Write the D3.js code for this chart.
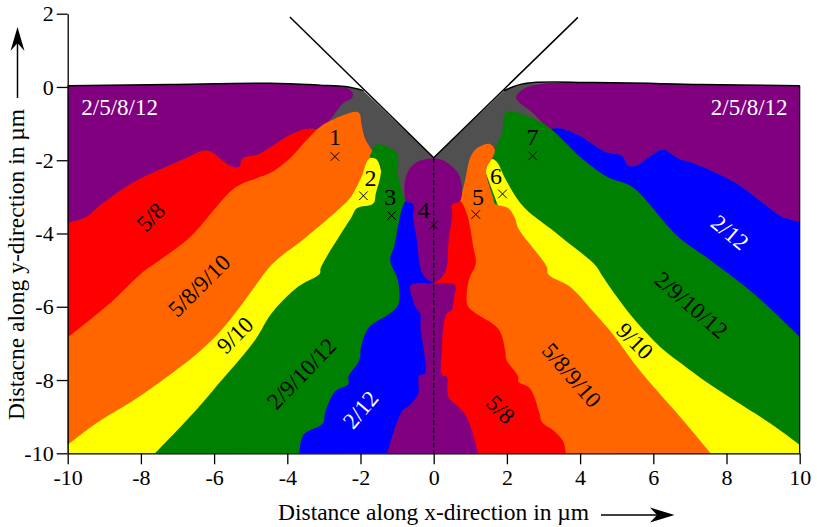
<!DOCTYPE html>
<html>
<head>
<meta charset="utf-8">
<script src="https://cdn.jsdelivr.net/npm/d3@7"></script>
<style>
  html, body { margin: 0; padding: 0; background: #fff; }
  svg { display: block; }
  text { font-family: "Liberation Serif", serif; fill: #000; }
  .tick text { font-family: "Liberation Serif", serif; font-size: 22px; }
</style>
</head>
<body>
<div id="chart"></div>
<script>
// all boundaries are [x, y] in um
const xTicks = [-10, -8, -6, -4, -2, 0, 2, 4, 6, 8, 10];
const yTicks = [2, 0, -2, -4, -6, -8, -10];

const surfaceLeft = [[-10,0.03],[-7.2,0.07],[-4.47,0.1],[-3.11,0.05],[-2.42,0.01],[-1.92,-0.1]];
const surfaceRight = [[1.92,-0.1],[2.54,0.1],[4.36,0.12],[7.28,0.07],[10,0.03]];
const trench = [[-3.93,1.91],[0,-1.93],[3.94,1.9]];

const purpleRedLeft = [[-10,-3.71],[-9.48,-3.54],[-9.12,-3.24],[-8.21,-2.61],[-7.3,-2.18],[-6.66,-1.9],[-6.34,-1.75],[-6.13,-1.75],[-5.52,-2.18],[-5.31,-2.18],[-5.25,-1.99],[-5.16,-1.92],[-4.84,-1.86],[-4.47,-1.65],[-3.93,-1.31],[-3.47,-1.15],[-3.24,-1.15],[-3.15,-1.17]];
const purpleGrayLeft = [[-2.42,0],[-2.21,-0.17],[-2.24,-0.31],[-2.47,-0.44],[-2.88,-0.95]];
const redCloseLeft = [[-10,-10]];

const orangeLeft = [[-10,-6.84],[-8.84,-5.9],[-7.93,-5.04],[-7.48,-4.72],[-6.66,-4.1],[-5.43,-2.75],[-4.84,-2.49],[-4.47,-2.35],[-3.93,-1.95],[-3.47,-1.45],[-3.15,-1.13],[-2.88,-0.95],[-2.06,-0.69],[-1.97,-1.04],[-1.88,-1.4],[-1.68,-1.74]];
const orangeCloseLeft = [[-1.52,-3.08],[-5,-10],[-10,-10]];

const yellowLeft = [[-10,-9.77],[-9.16,-9.14],[-8.07,-8.47],[-6.89,-7.62],[-6.3,-7.13],[-5.84,-6.68],[-5.29,-6],[-5.02,-5.63],[-4.56,-5],[-4.29,-4.72],[-3.47,-4.09],[-2.29,-3.04],[-2.15,-2.81],[-1.97,-2.45],[-1.76,-1.95],[-1.56,-1.97],[-1.44,-2.27]];
const yellowCloseLeft = [[-1.47,-3.9],[-5.57,-10],[-10,-10]];

const greenLeft = [[-7.61,-10],[-6.61,-8.95],[-6.02,-8.27],[-4.88,-6.91],[-4.43,-6.18],[-3.7,-5.45],[-3.11,-5.09],[-3.09,-4.95],[-2.24,-3.54],[-2.1,-3.31],[-1.65,-3.18],[-1.58,-2.9],[-1.44,-2.27],[-1.56,-1.97],[-1.74,-1.92],[-1.68,-1.74],[-1.58,-1.58],[-1.42,-1.58],[-1.01,-1.81],[-0.97,-2.45],[-0.78,-3.08],[-0.76,-3.11]];
const greenCloseLeft = [[-0.78,-5.81],[-2.56,-10]];

const blueLeft = [[-3.67,-10],[-3.56,-9.5],[-3.02,-9.18],[-2.97,-8.91],[-2.7,-8.32],[-2.33,-8.11],[-2.33,-7.91],[-2.03,-7.45],[-1.99,-7.13],[-1.79,-6.59],[-1.19,-6.18],[-0.97,-5.95],[-0.98,-5.27],[-1.19,-4.72],[-1.08,-4.36],[-0.76,-3.11],[-0.56,-3.18]];
const blueCloseLeft = [[-0.24,-4.18],[0,-5.4],[0,-10]];

const purpleBlueRight = [[3.18,-1.15],[3.45,-1.13],[4,-1.34],[4.68,-1.77],[5.14,-1.88],[5.32,-2.15],[5.53,-2.15],[6.14,-1.74],[6.32,-1.72],[6.68,-1.95],[7.09,-2.08],[8.19,-2.59],[9.01,-3.18],[9.51,-3.54],[10,-3.68]];
const purpleGrayRight = [[2.9,-0.9],[2.72,-0.72],[2.25,-0.31],[2.31,-0.17],[2.54,-0.01],[3,0.09]];
const blueCloseRight = [[10,-10]];

const greenRight = [[10,-6.82],[8.73,-5.63],[7.55,-4.72],[6.68,-4.09],[5.41,-2.72],[4.77,-2.47],[4.09,-1.99],[3.18,-1.13],[2.81,-0.9],[1.99,-0.69],[1.86,-1.26],[1.65,-1.72]];
const greenCloseRight = [[1.48,-3.49],[5.01,-10],[10,-10]];

const yellowRight = [[10,-9.77],[9.19,-9.18],[8.05,-8.45],[7.37,-8],[6.82,-7.59],[6.18,-7.09],[5.45,-6.31],[4.86,-5.53],[4.59,-5.13],[4.41,-4.86],[3.63,-4.22],[3.18,-3.86],[2.54,-3.36],[2.27,-3.04],[1.95,-2.49],[1.72,-2.04],[1.58,-1.97],[1.45,-2.18],[1.43,-2.36]];
const yellowCloseRight = [[1.95,-3.77],[5.91,-10],[10,-10]];

const orangeRight = [[7.57,-10],[6.73,-9],[6.05,-8.23],[5.55,-7.64],[4.91,-6.77],[4.32,-6.09],[3.72,-5.45],[3.13,-5.11],[3.09,-4.91],[2.31,-3.86],[2.22,-3.58],[2.04,-3.31],[1.67,-3.19],[1.63,-3.04],[1.43,-2.36],[1.45,-2.18],[1.58,-1.97],[1.67,-1.72],[1.54,-1.56],[1.36,-1.58],[1.13,-1.72],[0.99,-1.95],[0.86,-2.54],[0.72,-3.11]];
const orangeCloseRight = [[0.31,-4.18],[0,-5.34],[1.81,-10]];

const redRight = [[3.61,-10],[3.54,-9.68],[3.31,-9.41],[2.95,-9.14],[2.9,-8.95],[2.63,-8.23],[2.31,-8.05],[2.31,-7.91],[1.99,-7.45],[1.95,-7.18],[1.77,-6.61],[1.08,-6.13],[0.92,-5.95],[0.96,-5.27],[1.15,-4.81],[1.08,-4.36],[0.99,-3.81],[0.9,-3.45],[0.72,-3.11],[0.49,-3.22]];
const redCloseRight = [[0,-4.5],[0,-10]];

const centerTop = [[0,-1.95],[0.22,-1.99],[0.45,-2.13],[0.67,-2.36],[0.77,-2.72],[0.72,-3.11],[0.49,-3.22],[0.51,-3.45],[0.4,-4.27],[0.36,-4.91],[0.22,-5.2],[0,-5.34],[-0.27,-5.16],[-0.37,-4.91],[-0.46,-4.18],[-0.56,-3.54],[-0.54,-3.27],[-0.56,-3.18],[-0.76,-3.11],[-0.8,-2.81],[-0.78,-2.54],[-0.65,-2.22],[-0.37,-2.01]];
const centerBottom = [[-1.27,-10],[-0.87,-8.86],[-0.65,-8.68],[-0.42,-8.36],[-0.4,-7.88],[-0.24,-7.82],[-0.27,-7.18],[-0.36,-6.63],[-0.37,-6.18],[-0.48,-6.04],[-0.6,-5.72],[-0.63,-5.41],[0,-5.36],[0.58,-5.41],[0.56,-5.72],[0.49,-6.09],[0.34,-6.22],[0.22,-7.18],[0.23,-7.86],[0.36,-7.91],[0.4,-8.45],[0.72,-8.77],[0.9,-9],[1.22,-10]];

const markerX = [-2.7, -1.92, -1.15, 0, 1.15, 1.88, 2.7];
const markerY = [-1.9, -2.97, -3.51, -3.77, -3.48, -2.92, -1.88];
const markerLabels = ["1", "2", "3", "4", "5", "6", "7"];
const markerLabelX = [-2.7, -1.73, -1.19, -0.27, 1.21, 1.7, 2.7];
const markerLabelY = [-1.44, -2.55, -3.08, -3.42, -3.08, -2.49, -1.44];

const regionNames = ["2/5/8/12", "2/5/8/12", "5/8", "5/8/9/10", "9/10", "2/9/10/12", "2/12", "5/8", "5/8/9/10", "9/10", "2/9/10/12", "2/12"];
const regionX = [-8.58, 8.62, -7.68, -6.36, -5.38, -3.56, -1.95, 1.78, 3.72, 5.45, 6.99, 8.05];
const regionY = [-0.62, -0.62, -3.6, -5.47, -6.82, -7.87, -8.85, -8.85, -7.91, -6.98, -6.0, -4.02];
const regionAngle = [0, 0, -45, -45, -45, -46, -50, 45, 49, 45, 41, 40];
const regionFill = ["#fff", "#fff", "#000", "#000", "#000", "#000", "#fff", "#000", "#000", "#000", "#000", "#fff"];

const width = 817, height = 527;
const x = d3.scaleLinear().domain([-10, 10]).range([67.7, 799.7]);
const y = d3.scaleLinear().domain([-10, 2]).range([453.3, 13.7]);

const svg = d3.select("#chart").append("svg")
    .attr("width", width)
    .attr("height", height);

const line = d3.line().x((d) => x(d[0])).y((d) => y(d[1]));
const smooth = d3.line().x((d) => x(d[0])).y((d) => y(d[1])).curve(d3.curveCatmullRom.alpha(0.5));
const smoothClosed = d3.line().x((d) => x(d[0])).y((d) => y(d[1])).curve(d3.curveCatmullRomClosed.alpha(0.5));

// visible edge is smoothed, the closing part sits under the next region
const region = (edge, close) => {
  return smooth(edge) + close.map((d) => "L" + x(d[0]) + "," + y(d[1])).join("") + "Z";
};

// painted back to front
const layers = [
  { fill: "#505050", d: line(surfaceLeft.concat([[0, -1.93]], surfaceRight, [[10, -10], [-10, -10]])) + "Z" },
  { fill: "#800080", d: region(surfaceLeft.slice(0, 4).concat(purpleGrayLeft, purpleRedLeft.slice().reverse()), []) },
  { fill: "#ff0000", d: region(purpleRedLeft, redCloseLeft) },
  { fill: "#ff6600", d: region(orangeLeft, orangeCloseLeft) },
  { fill: "#ffff00", d: region(yellowLeft, yellowCloseLeft) },
  { fill: "#008000", d: region(greenLeft, greenCloseLeft) },
  { fill: "#0000ff", d: region(blueLeft, blueCloseLeft) },
  { fill: "#800080", d: region(purpleBlueRight.slice().reverse().concat(purpleGrayRight, surfaceRight.slice(2)), []) },
  { fill: "#0000ff", d: region(purpleBlueRight, blueCloseRight) },
  { fill: "#008000", d: region(greenRight, greenCloseRight) },
  { fill: "#ffff00", d: region(yellowRight, yellowCloseRight) },
  { fill: "#ff6600", d: region(orangeRight, orangeCloseRight) },
  { fill: "#ff0000", d: region(redRight, redCloseRight) },
  { fill: "#800080", d: smoothClosed(centerTop) },
  { fill: "#800080", d: region(centerBottom, []) }
];

svg.append("g").selectAll("path")
    .data(layers)
    .enter().append("path")
    .attr("d", (d) => d.d)
    .attr("fill", (d) => d.fill);

// surface and trench outline
svg.append("path")
    .attr("d", smooth(surfaceLeft))
    .attr("fill", "none").attr("stroke", "#000").attr("stroke-width", 1.5);
svg.append("path")
    .attr("d", smooth(surfaceRight))
    .attr("fill", "none").attr("stroke", "#000").attr("stroke-width", 1.5);
svg.append("path")
    .attr("d", line(trench))
    .attr("fill", "none").attr("stroke", "#000").attr("stroke-width", 1.5);

// symmetry line
svg.append("line")
    .attr("x1", x(0)).attr("x2", x(0))
    .attr("y1", y(-1.93)).attr("y2", y(-10))
    .attr("stroke", "#000").attr("stroke-width", 1.4)
    .attr("stroke-dasharray", "5,2.5");

// right edge of the box
svg.append("line")
    .attr("x1", x(10)).attr("x2", x(10))
    .attr("y1", y(0.03)).attr("y2", y(-10))
    .attr("stroke", "#000").attr("stroke-width", 1.2);

const xAxis = d3.axisBottom(x).tickValues(xTicks).tickSize(11).tickSizeOuter(0).tickPadding(5)
    .tickFormat((d) => String(d));
const yAxis = d3.axisLeft(y).tickValues(yTicks).tickSize(11).tickSizeOuter(0).tickPadding(3)
    .tickFormat((d) => String(d));

svg.append("g").attr("transform", "translate(0," + y(-10) + ")").call(xAxis);
svg.append("g").attr("transform", "translate(" + x(-10) + ",0)").call(yAxis);
svg.selectAll(".domain, .tick line").attr("stroke", "#000").attr("stroke-width", 1.3);
svg.selectAll(".tick text").attr("fill", "#000");

// x markers and their numbers
svg.append("g").selectAll("path")
    .data(markerX)
    .enter().append("path")
    .attr("d", d3.symbol(d3.symbolX, 50))
    .attr("transform", (d, i) => "translate(" + x(d) + "," + y(markerY[i]) + ")")
    .attr("fill", "none").attr("stroke", "#000").attr("stroke-width", 1);

svg.append("g").selectAll("text")
    .data(markerLabels)
    .enter().append("text")
    .text((d) => d)
    .attr("x", (d, i) => x(markerLabelX[i]))
    .attr("y", (d, i) => y(markerLabelY[i]))
    .attr("text-anchor", "middle")
    .attr("dominant-baseline", "middle")
    .style("font-size", "24px");

svg.append("g").selectAll("text")
    .data(regionNames)
    .enter().append("text")
    .text((d) => d)
    .attr("transform", (d, i) => "translate(" + x(regionX[i]) + "," + y(regionY[i]) + ") rotate(" + regionAngle[i] + ")")
    .attr("text-anchor", "middle")
    .attr("dominant-baseline", "middle")
    .style("font-size", "23px")
    .style("fill", (d, i) => regionFill[i]);

// axis titles with their arrows
svg.append("text")
    .text("Distance along x-direction in µm")
    .attr("x", 278).attr("y", 520)
    .style("font-size", "23.5px");
svg.append("text")
    .text("Distacne along y-direction in µm")
    .attr("transform", "translate(24,420) rotate(-90)")
    .style("font-size", "23.5px");

svg.append("line").attr("x1", 601).attr("x2", 662).attr("y1", 515).attr("y2", 515)
    .attr("stroke", "#000").attr("stroke-width", 1.5);
svg.append("path").attr("d", "M674.5,515L650,507.5L657,515L650,522.5Z").attr("fill", "#000");
svg.append("line").attr("x1", 17.5).attr("x2", 17.5).attr("y1", 98).attr("y2", 40)
    .attr("stroke", "#000").attr("stroke-width", 1.5);
svg.append("path").attr("d", "M17.5,27L10.5,51L17.5,43L24.5,51Z").attr("fill", "#000");
</script>
</body>
</html>
